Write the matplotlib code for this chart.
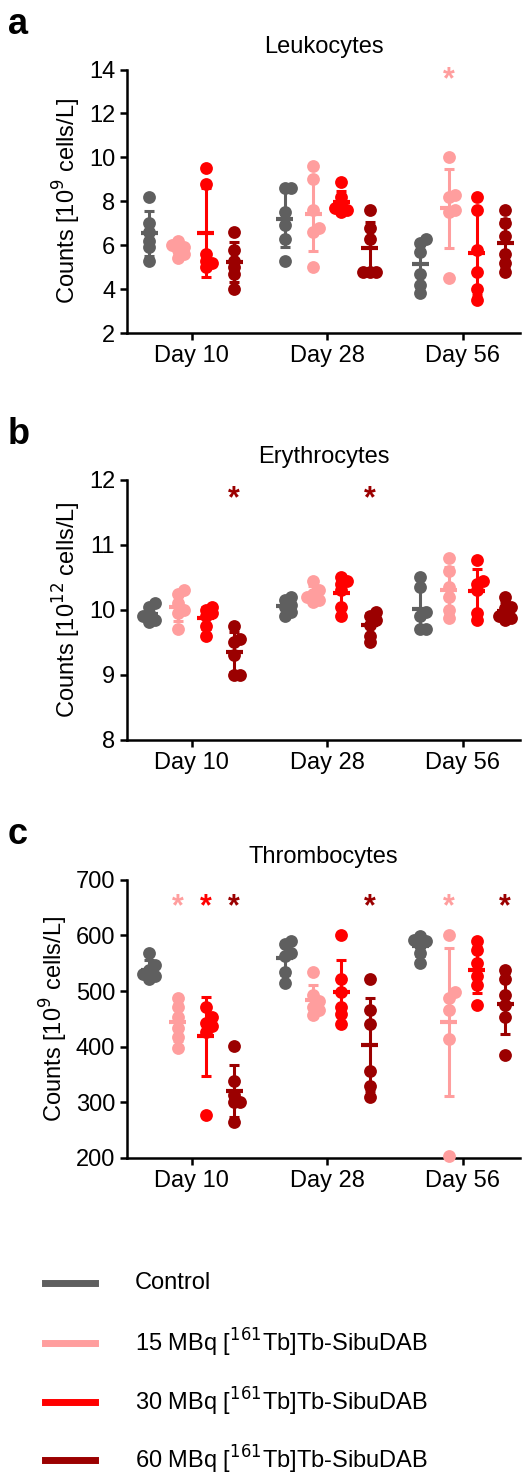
import numpy as np
import matplotlib
matplotlib.use("Agg")
import matplotlib.pyplot as plt
from matplotlib.lines import Line2D

plt.rcParams['font.family'] = ['Liberation Sans', 'DejaVu Sans']

days = ["Day 10", "Day 28", "Day 56"]
groups = ["Control", "15 MBq [$^{161}$Tb]Tb-SibuDAB", "30 MBq [$^{161}$Tb]Tb-SibuDAB", "60 MBq [$^{161}$Tb]Tb-SibuDAB"]
colors = ["#5f5f5f", "#ff9e9e", "#ff0000", "#9b0000"]

leuko = [
    [[8.2,7.0,6.6,6.2,5.9,5.3],[6.2,6.0,5.9,5.8,5.6,5.4],[9.5,8.8,5.6,5.3,5.2,5.0],[6.6,5.8,5.3,5.0,4.7,4.0]],
    [[8.6,8.6,7.5,6.9,6.3,5.3],[9.6,9.0,7.6,6.8,6.6,5.0],[8.9,8.2,7.9,7.7,7.6,7.5],[7.6,6.8,6.3,4.8,4.8,4.8]],
    [[6.3,6.1,5.7,4.7,4.2,3.8],[10.0,8.3,8.2,7.6,7.5,4.5],[8.2,7.6,5.8,4.8,4.0,3.5],[7.6,7.0,6.4,5.6,5.2,4.8]],
]
erythro = [
    [[10.1,10.05,9.95,9.9,9.85,9.82],[10.3,10.25,10.1,10.0,9.95,9.7],[10.05,10.0,9.95,9.9,9.75,9.6],[9.75,9.55,9.5,9.3,9.0,9.0]],
    [[10.2,10.15,10.07,10.05,9.97,9.9],[10.45,10.3,10.25,10.2,10.15,10.13],[10.5,10.45,10.4,10.3,10.05,9.9],[9.97,9.9,9.85,9.77,9.6,9.5]],
    [[10.5,10.35,9.97,9.9,9.7,9.7],[10.8,10.6,10.35,10.2,10.0,9.87],[10.77,10.45,10.4,10.3,9.95,9.85],[10.2,10.05,10.03,9.9,9.87,9.85]],
]
thrombo = [
    [[569,547,537,527,521,530],[488,472,453,433,417,398],[472,453,443,437,427,278],[402,339,313,300,300,265]],
    [[589,585,569,563,534,514],[534,492,482,472,466,456],[600,521,498,472,459,440],[521,466,440,356,330,310]],
    [[598,592,589,582,569,550],[600,498,488,466,414,203],[589,573,550,527,511,475],[537,521,492,475,453,385]],
]
stars_a = [(2, 1)]
stars_b = [(0, 3), (1, 3)]
stars_c = [(0, 1), (0, 2), (0, 3), (1, 3), (2, 1), (2, 3)]

panels = [
    ("a", "Leukocytes", "Counts [10$^{9}$ cells/L]", leuko, (2, 14), [2,4,6,8,10,12,14], stars_a, 13.5, [0.242, 0.775, 0.749, 0.178]),
    ("b", "Erythrocytes", "Counts [10$^{12}$ cells/L]", erythro, (8, 12), [8,9,10,11,12], stars_b, 11.7, [0.242, 0.500, 0.749, 0.1757]),
    ("c", "Thrombocytes", "Counts [10$^{9}$ cells/L]", thrombo, (200, 700), [200,300,400,500,600,700], stars_c, 650, [0.242, 0.2176, 0.749, 0.188]),
]

fig = plt.figure(figsize=(5.25, 14.8), dpi=100)
GAP = 4.8

def swarm(vals, ylim, axh_px, xscale_px):
    diam = 11
    ypx = [(v - ylim[0]) / (ylim[1] - ylim[0]) * axh_px for v in vals]
    placed = []
    order = np.argsort(ypx)
    res = [0.0] * len(vals)
    for i in order:
        for cand in [0, 1, -1, 2, -2]:
            xo = cand * diam * 0.55
            ok = all((xo - px) ** 2 + (ypx[i] - py) ** 2 >= (diam * 0.55) ** 2 for px, py in placed)
            if ok:
                break
        placed.append((xo, ypx[i]))
        res[i] = xo / xscale_px
    return res

for letter, title, ylabel, data, ylim, yticks, stars, stary, rect in panels:
    ax = fig.add_axes(rect)
    axh_px = rect[3] * 1480
    xlim = (-0.79, 2 * GAP + 3 + 0.54)
    xscale = rect[2] * 525 / (xlim[1] - xlim[0])
    for d in range(3):
        for g in range(4):
            vals = np.array(data[d][g], dtype=float)
            x0 = d * GAP + g
            offs = swarm(vals, ylim, axh_px, xscale)
            ax.scatter(x0 + np.array(offs), vals, s=85, color=colors[g], zorder=3, linewidths=0, clip_on=False)
            m = vals.mean(); sd = vals.std(ddof=1)
            ax.errorbar([x0], [m], yerr=[sd], color=colors[g], capsize=3.5, elinewidth=2.2, capthick=2.2, zorder=4)
            ax.plot([x0 - 0.3, x0 + 0.3], [m, m], color=colors[g], lw=3, zorder=4, solid_capstyle='butt')
    for d, g in stars:
        ax.text(d * GAP + g, stary, "*", color=colors[g], fontsize=22, ha='center', va='center', fontweight='bold')
    ax.set_xlim(xlim)
    ax.set_ylim(ylim)
    ax.set_yticks(yticks)
    ax.set_xticks([d * GAP + 1.5 for d in range(3)])
    ax.set_xticklabels(days)
    ax.tick_params(labelsize=17, width=1.8, length=5)
    for s in ["top", "right"]:
        ax.spines[s].set_visible(False)
    for s in ["left", "bottom"]:
        ax.spines[s].set_linewidth(1.8)
    ax.set_ylabel(ylabel, fontsize=17, labelpad=4)
    ax.set_title(title, fontsize=17, pad=12)
    top_px = (rect[1] + rect[3]) * 1480
    fig.text(8 / 525, (top_px + 45) / 1480, letter, fontsize=26, fontweight='bold', va='center')

ys = [1283, 1350, 1417, 1483 - 20]
ys = [1283, 1343, 1402, 1460]
for y, lab, c in zip(ys, groups, colors):
    yf = 1 - y / 1480
    fig.add_artist(Line2D([45 / 525, 95 / 525], [yf, yf], color=c, lw=5, transform=fig.transFigure))
    fig.text(135 / 525, yf, lab, fontsize=17, va='center')

fig.savefig("out.png", dpi=100)
